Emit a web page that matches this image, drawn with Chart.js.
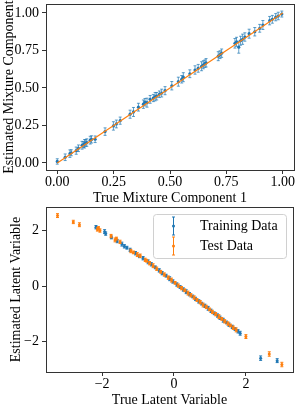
<!DOCTYPE html>
<html>
<head>
<meta charset="utf-8">
<script src="https://cdn.jsdelivr.net/npm/chart.js@4.4.1/dist/chart.umd.min.js"></script>
<style>
    html, body { margin: 0; padding: 0; background: #fff; }
    canvas { display: block; }
</style>
</head>
<body>
<canvas id="canvaMix" width="299" height="203"></canvas>
<canvas id="canvaLat" width="299" height="205"></canvas>
<script>
// panel de arriba: componente de mezcla
const mixTrue = [0.000, 0.035, 0.056, 0.062, 0.084, 0.094, 0.110, 0.116, 0.121, 0.126,
    0.131, 0.146, 0.152, 0.168, 0.212, 0.249, 0.262, 0.279, 0.323, 0.338,
    0.360, 0.382, 0.389, 0.398, 0.412, 0.426, 0.434, 0.441, 0.453, 0.463,
    0.478, 0.508, 0.537, 0.552, 0.559, 0.588, 0.611, 0.625, 0.640, 0.648,
    0.655, 0.660, 0.714, 0.722, 0.729, 0.788, 0.795, 0.805, 0.813, 0.822,
    0.832, 0.851, 0.876, 0.898, 0.912, 0.942, 0.954, 0.969, 0.980, 0.996];
const mixEst = [0.010, 0.038, 0.062, 0.068, 0.082, 0.098, 0.118, 0.122, 0.128, 0.133,
    0.136, 0.152, 0.157, 0.158, 0.209, 0.247, 0.260, 0.282, 0.325, 0.340,
    0.372, 0.392, 0.405, 0.402, 0.424, 0.433, 0.442, 0.445, 0.458, 0.466,
    0.482, 0.515, 0.542, 0.558, 0.572, 0.595, 0.620, 0.631, 0.645, 0.655,
    0.662, 0.668, 0.712, 0.722, 0.732, 0.798, 0.808, 0.772, 0.815, 0.825,
    0.840, 0.862, 0.875, 0.898, 0.920, 0.949, 0.958, 0.972, 0.980, 0.993];
const mixErr = [0.018, 0.022, 0.025, 0.020, 0.024, 0.022, 0.026, 0.020, 0.028, 0.022,
    0.025, 0.026, 0.024, 0.022, 0.025, 0.028, 0.026, 0.024, 0.027, 0.030,
    0.026, 0.028, 0.025, 0.030, 0.026, 0.024, 0.028, 0.025, 0.022, 0.026,
    0.027, 0.028, 0.030, 0.025, 0.030, 0.026, 0.028, 0.026, 0.030, 0.027,
    0.025, 0.028, 0.030, 0.026, 0.028, 0.032, 0.030, 0.040, 0.030, 0.034,
    0.028, 0.030, 0.028, 0.026, 0.030, 0.028, 0.026, 0.024, 0.025, 0.020];
const identidad = [0, 1];
const mixTicks = [0, 0.25, 0.5, 0.75, 1];

// panel de abajo: variable latente
const trainTrue = [-2.17, -1.93, -1.90, -1.74, -1.58, -1.45, -1.38, -1.31, -1.22, -1.07,
    -0.96, -0.86, -0.72, -0.63, -0.52, -0.41, -0.33, -0.22, -0.12, -0.03,
    0.08, 0.17, 0.26, 0.34, 0.43, 0.52, 0.60, 0.69, 0.77, 0.86,
    0.95, 1.03, 1.12, 1.21, 1.28, 1.37, 1.46, 1.53, 1.62, 1.70,
    1.78, 1.84, 2.41, 2.87];
const trainEst = [2.13, 1.97, 1.90, 1.76, 1.63, 1.52, 1.44, 1.39, 1.31, 1.19,
    1.08, 1.01, 0.88, 0.79, 0.68, 0.57, 0.47, 0.38, 0.27, 0.17,
    0.06, -0.03, -0.12, -0.20, -0.29, -0.37, -0.46, -0.55, -0.63, -0.71,
    -0.80, -0.89, -0.98, -1.06, -1.14, -1.23, -1.31, -1.39, -1.47, -1.55,
    -1.63, -1.70, -2.60, -2.69];
const trainErr = [0.06, 0.07, 0.06, 0.05, 0.06, 0.07, 0.06, 0.05, 0.06, 0.06,
    0.05, 0.06, 0.07, 0.06, 0.05, 0.06, 0.06, 0.05, 0.07, 0.06,
    0.06, 0.05, 0.06, 0.07, 0.06, 0.05, 0.06, 0.06, 0.05, 0.06,
    0.07, 0.06, 0.05, 0.06, 0.06, 0.07, 0.05, 0.06, 0.06, 0.05,
    0.06, 0.07, 0.08, 0.07];
const testTrue = [-3.24, -2.80, -2.63, -2.13, -2.10, -2.06, -1.75, -1.64, -1.60, -1.50,
    -1.20, -1.13, -1.02, -0.94, -0.80, -0.76, -0.68, -0.58, -0.48, -0.37,
    -0.27, -0.16, -0.07, 0.03, 0.12, 0.21, 0.30, 0.39, 0.47, 0.56,
    0.64, 0.73, 0.81, 0.90, 0.99, 1.07, 1.16, 1.25, 1.33, 1.41,
    1.50, 1.57, 1.65, 1.73, 2.00, 2.65, 3.00];
const testEst = [2.55, 2.32, 2.22, 2.05, 2.10, 2.01, 1.81, 1.67, 1.72, 1.60,
    1.27, 1.22, 1.14, 1.10, 0.95, 0.92, 0.83, 0.74, 0.63, 0.52,
    0.42, 0.31, 0.22, 0.12, 0.02, -0.07, -0.15, -0.25, -0.33, -0.41,
    -0.50, -0.58, -0.68, -0.75, -0.84, -0.93, -1.01, -1.10, -1.18, -1.27,
    -1.35, -1.42, -1.50, -1.58, -1.82, -2.45, -2.83];
const testErr = [0.07, 0.06, 0.07, 0.06, 0.05, 0.06, 0.06, 0.07, 0.05, 0.06,
    0.06, 0.05, 0.07, 0.06, 0.06, 0.05, 0.06, 0.07, 0.06, 0.05,
    0.06, 0.06, 0.07, 0.05, 0.06, 0.06, 0.05, 0.07, 0.06, 0.06,
    0.05, 0.06, 0.07, 0.06, 0.05, 0.06, 0.06, 0.07, 0.05, 0.06,
    0.06, 0.05, 0.06, 0.07, 0.07, 0.08, 0.08];
const latTicks = [-2, 0, 2];

const AZUL = '#1f77b4';
const NARANJA = '#ff7f0e';
const FUENTE = "'Liberation Serif', 'Times New Roman', serif";
const LINEA = '#333';

function puntos(xs, ys) {
    return xs.map((x, i) => ({ x: x, y: ys[i] }));
}

function menos(v) {
    return v < 0 ? '\u2212' + Math.abs(v) : String(v);
}

// barras de error verticales, debajo de los puntos de cada serie
const barrasError = {
    id: 'barrasError',
    beforeDatasetDraw(chart, args) {
        const ds = chart.data.datasets[args.index];
        if (!ds.errY) return;
        const ctx = chart.ctx;
        const ex = chart.scales.x;
        const ey = chart.scales.y;
        ctx.save();
        ctx.strokeStyle = ds.errColor;
        ctx.lineWidth = 1;
        ds.data.forEach((p, i) => {
            const px = ex.getPixelForValue(p.x);
            const arriba = ey.getPixelForValue(p.y + ds.errY[i]);
            const abajo = ey.getPixelForValue(p.y - ds.errY[i]);
            const c = ds.capSize;
            ctx.beginPath();
            ctx.moveTo(px, arriba);
            ctx.lineTo(px, abajo);
            ctx.moveTo(px - c, arriba);
            ctx.lineTo(px + c, arriba);
            ctx.moveTo(px - c, abajo);
            ctx.lineTo(px + c, abajo);
            ctx.stroke();
        });
        ctx.restore();
    }
};

// marco completo alrededor del area de datos
const marco = {
    id: 'marco',
    afterDatasetsDraw(chart) {
        const a = chart.chartArea;
        const ctx = chart.ctx;
        ctx.save();
        ctx.strokeStyle = LINEA;
        ctx.lineWidth = 1;
        ctx.strokeRect(Math.round(a.left) + 0.5, Math.round(a.top) + 0.5,
            Math.round(a.right - a.left), Math.round(a.bottom - a.top));
        ctx.restore();
    }
};

// leyenda dentro del area, arriba a la derecha
const leyenda = {
    id: 'leyenda',
    afterDraw(chart) {
        const ctx = chart.ctx;
        const a = chart.chartArea;
        const caja = { x: a.right - 140, y: a.top + 7, w: 133, h: 44 };
        ctx.save();
        ctx.fillStyle = 'rgba(255,255,255,0.8)';
        ctx.strokeStyle = '#d0d0d0';
        ctx.lineWidth = 1;
        ctx.beginPath();
        ctx.roundRect(caja.x + 0.5, caja.y + 0.5, caja.w, caja.h, 3);
        ctx.fill();
        ctx.stroke();
        ctx.font = '14px ' + FUENTE;
        ctx.textBaseline = 'middle';
        chart.data.datasets.forEach((ds, i) => {
            const cy = caja.y + 12 + i * 20;
            const cx = caja.x + 20;
            ctx.strokeStyle = ds.errColor;
            ctx.beginPath();
            ctx.moveTo(cx + 0.5, cy - 9);
            ctx.lineTo(cx + 0.5, cy + 9);
            ctx.moveTo(cx - 1, cy - 9);
            ctx.lineTo(cx + 2, cy - 9);
            ctx.moveTo(cx - 1, cy + 9);
            ctx.lineTo(cx + 2, cy + 9);
            ctx.stroke();
            ctx.fillStyle = ds.pointBackgroundColor;
            ctx.beginPath();
            ctx.arc(cx + 0.5, cy, 1.5, 0, Math.PI * 2);
            ctx.fill();
            ctx.fillStyle = '#000';
            ctx.fillText(ds.label, caja.x + 47, cy);
        });
        ctx.restore();
    }
};

function eje(min, max, marcas, formato, titulo, tituloPad, tamano, horizontal) {
    return {
        type: 'linear',
        min: min,
        max: max,
        afterBuildTicks: s => { s.ticks = marcas.map(v => ({ value: v })); },
        afterFit: s => {
            if (horizontal) {
                s.height = tamano;
                s.paddingLeft = 0;
                s.paddingRight = 0;
            } else {
                s.width = tamano;
                s.paddingTop = 0;
                s.paddingBottom = 0;
            }
        },
        ticks: {
            callback: formato,
            font: { family: FUENTE, size: 14 },
            color: '#000',
            padding: horizontal ? 0 : 3,
            autoSkip: false,
            maxRotation: 0
        },
        grid: {
            drawOnChartArea: false,
            drawTicks: true,
            tickLength: 4,
            tickColor: LINEA
        },
        border: { display: true, color: LINEA },
        title: {
            display: true,
            text: titulo,
            font: { family: FUENTE, size: 14 },
            color: '#000',
            padding: tituloPad
        }
    };
}

const comunes = {
    responsive: false,
    animation: false,
    events: [],
    plugins: { legend: { display: false }, tooltip: { enabled: false } }
};

new Chart(document.getElementById('canvaMix').getContext('2d'), {
    type: 'scatter',
    data: {
        datasets: [{
            label: 'Identidad',
            data: puntos(identidad, identidad),
            showLine: true,
            borderColor: NARANJA,
            borderWidth: 1.2,
            pointRadius: 0,
            order: 0
        }, {
            label: 'Estimado',
            data: puntos(mixTrue, mixEst),
            errY: mixErr,
            errColor: 'rgba(31,119,180,0.7)',
            capSize: 1.5,
            pointRadius: 1.6,
            pointBackgroundColor: AZUL,
            pointBorderWidth: 0,
            order: 1
        }]
    },
    options: {
        ...comunes,
        layout: { padding: { left: 0, right: 5, top: 4, bottom: 0 } },
        scales: {
            x: eje(-0.05, 1.05, mixTicks, v => v.toFixed(2), 'True Mixture Component 1',
                { top: 0, bottom: -4 }, 33, true),
            y: eje(-0.047, 1.06, mixTicks, v => v.toFixed(2), 'Estimated Mixture Component',
                { top: 1, bottom: 0 }, 46, false)
        }
    },
    plugins: [barrasError, marco]
});

new Chart(document.getElementById('canvaLat').getContext('2d'), {
    type: 'scatter',
    data: {
        datasets: [{
            label: 'Training Data',
            data: puntos(trainTrue, trainEst),
            errY: trainErr,
            errColor: AZUL,
            capSize: 1.5,
            pointRadius: 1.5,
            pointBackgroundColor: AZUL,
            pointBorderWidth: 0,
            order: 1
        }, {
            label: 'Test Data',
            data: puntos(testTrue, testEst),
            errY: testErr,
            errColor: NARANJA,
            capSize: 1.5,
            pointRadius: 1.5,
            pointBackgroundColor: NARANJA,
            pointBorderWidth: 0,
            order: 0
        }]
    },
    options: {
        ...comunes,
        layout: { padding: { left: 0, right: 6, top: 2, bottom: 0 } },
        scales: {
            x: eje(-3.56, 3.31, latTicks, menos, 'True Latent Variable',
                { top: 0, bottom: -1 }, 36, true),
            y: eje(-3.1, 2.86, latTicks, menos, 'Estimated Latent Variable',
                { top: 7.5, bottom: 0 }, 46, false)
        }
    },
    plugins: [barrasError, marco, leyenda]
});
</script>
</body>
</html>
